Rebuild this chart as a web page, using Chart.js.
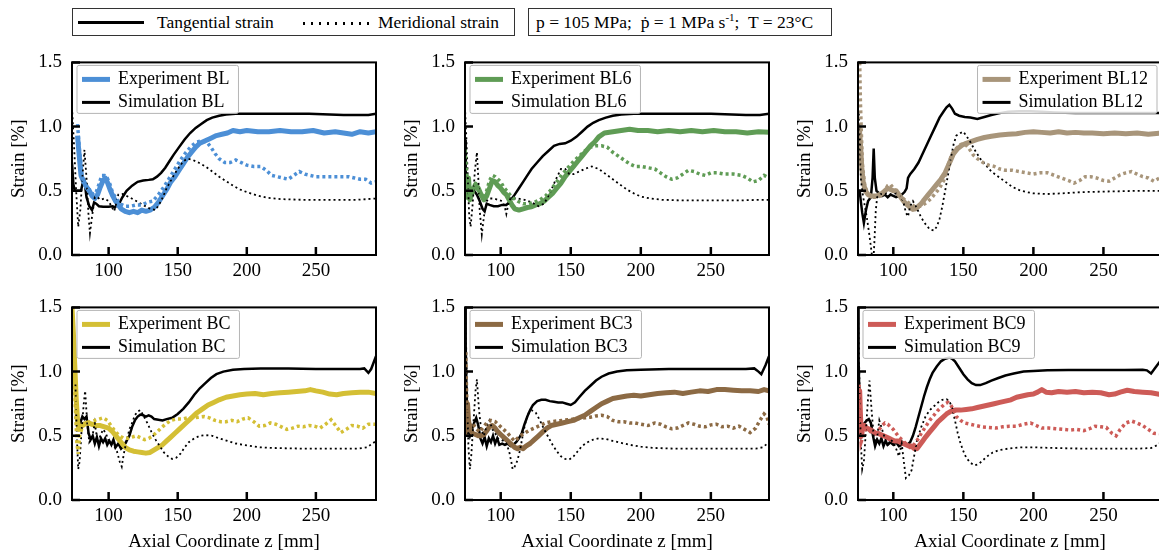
<!DOCTYPE html>
<html>
<head>
<meta charset="utf-8">
<script src="https://cdn.jsdelivr.net/npm/chart.js@4.4.1/dist/chart.umd.min.js"></script>
<style>
  html, body { margin: 0; padding: 0; width: 1159px; height: 553px; overflow: hidden; background: #fff; }
  body { position: relative; font-family: "Liberation Serif", "DejaVu Serif", serif; color: #000; }
  .panel { position: absolute; }
  .topbox { position: absolute; top: 8px; height: 28px; box-sizing: border-box; border: 1px solid #333; font-size: 17.5px; }
  .topbox span { position: absolute; top: 3px; white-space: nowrap; }
  .solid { position: absolute; top: 12px; height: 3px; background: #000; }
  .dots { position: absolute; top: 13px; height: 2.5px; background: repeating-linear-gradient(to right, #000 0 2.5px, transparent 2.5px 8px); }
  sup { font-size: 11px; vertical-align: 7px; line-height: 0; }
</style>
</head>
<body>

<div class="topbox" style="left:72px;width:443px;">
  <div class="solid" style="left:5px;width:66px;"></div>
  <span style="left:84px;">Tangential strain</span>
  <div class="dots" style="left:230px;width:70px;"></div>
  <span style="left:305px;">Meridional strain</span>
</div>
<div class="topbox" style="left:528px;width:304px;">
  <span style="left:7px;">p = 105 MPa;&nbsp; ṗ = 1 MPa s<sup>-1</sup>;&nbsp; T = 23°C</span>
</div>

<script>
// axis ticks
const xTicks = [100, 150, 200, 250];
const yTicks = [0, 0.5, 1.0, 1.5];
// x limits per column
const xMins = [73.5, 74.5, 74.8];
const xMaxs = [293.5, 291.5, 291.8];

// ---- BL ----
const expTanBL = [[77.5,0.93],[78.5,0.8],[80,0.62],[82,0.57],[84,0.53],[86,0.5],[88,0.46],[90,0.44],[92,0.47],[94,0.53],[96,0.58],[97.5,0.6],[99,0.57],[101,0.51],[103,0.46],[105,0.42],[107,0.39],[109,0.36],[112,0.34],[115,0.33],[118,0.34],[121,0.33],[124,0.35],[127,0.34],[130,0.35],[133,0.37],[136,0.41],[139,0.46],[142,0.51],[145,0.57],[148,0.61],[151,0.66],[154,0.71],[157,0.76],[160,0.8],[163,0.84],[166,0.87],[170,0.89],[174,0.91],[178,0.93],[182,0.94],[186,0.95],[190,0.97],[195,0.96],[200,0.97],[208,0.96],[216,0.96],[224,0.97],[232,0.96],[240,0.96],[248,0.97],[256,0.95],[264,0.96],[270,0.95],[276,0.94],[282,0.96],[288,0.95],[293.5,0.96]];
const expMerBL = [[77.5,1.02],[79,0.8],[81,0.6],[83,0.55],[85,0.52],[87,0.5],[89,0.47],[91,0.49],[93,0.55],[95,0.62],[97,0.62],[99,0.6],[101,0.55],[103,0.48],[105,0.45],[108,0.4],[112,0.38],[116,0.38],[120,0.39],[124,0.39],[128,0.41],[132,0.42],[136,0.47],[140,0.53],[144,0.6],[148,0.67],[152,0.74],[156,0.8],[160,0.85],[164,0.88],[168,0.89],[171,0.88],[174,0.84],[177,0.79],[180,0.75],[184,0.72],[188,0.72],[192,0.74],[196,0.72],[200,0.7],[205,0.69],[210,0.69],[214,0.66],[218,0.62],[222,0.61],[226,0.6],[230,0.59],[234,0.62],[238,0.65],[242,0.63],[246,0.62],[250,0.61],[256,0.61],[262,0.61],[268,0.61],[274,0.61],[278,0.6],[282,0.59],[286,0.59],[290,0.56],[293.5,0.57]];
const simTanBL = [[73.5,0.72],[74.5,0.55],[75.5,0.5],[78,0.5],[80,0.5],[81.5,0.57],[82.5,0.58],[84,0.45],[86,0.38],[88,0.35],[89.5,0.41],[91,0.4],[93,0.38],[96,0.375],[100,0.375],[103,0.38],[104.5,0.37],[106,0.39],[108,0.41],[110,0.45],[113,0.5],[117,0.54],[121,0.57],[125,0.58],[129,0.585],[132,0.59],[135,0.61],[138,0.64],[141,0.68],[144,0.73],[147,0.78],[151,0.84],[155,0.9],[159,0.95],[163,0.99],[167,1.02],[171,1.05],[175,1.07],[180,1.085],[185,1.095],[192,1.1],[200,1.1],[215,1.1],[230,1.1],[245,1.1],[260,1.095],[270,1.09],[280,1.09],[288,1.09],[293.5,1.1]];
const simMerBL = [[73.5,1.15],[75,0.85],[76.5,0.5],[78,0.22],[79.5,0.35],[81,0.6],[82.5,0.82],[84,0.6],[85.5,0.3],[86.5,0.17],[88,0.3],[90,0.45],[92,0.45],[94,0.43],[97,0.44],[100,0.42],[102,0.38],[104,0.34],[105.5,0.4],[107,0.47],[110,0.475],[115,0.45],[120,0.42],[125,0.39],[130,0.36],[134,0.35],[138,0.42],[142,0.52],[146,0.6],[150,0.67],[154,0.73],[157,0.75],[161,0.74],[165,0.72],[170,0.69],[175,0.65],[180,0.61],[185,0.575],[190,0.54],[195,0.51],[200,0.49],[207,0.465],[215,0.445],[225,0.435],[240,0.43],[260,0.43],[280,0.43],[293.5,0.44]];

// ---- BL6 ----
const expTanBL6 = [[75,0.52],[76,0.45],[77,0.6],[78,0.43],[80,0.5],[82,0.55],[84,0.52],[86,0.47],[88,0.43],[90,0.46],[92,0.52],[94,0.58],[96,0.57],[98,0.54],[100,0.52],[102,0.49],[104,0.47],[106,0.43],[108,0.39],[110,0.36],[113,0.35],[116,0.36],[119,0.37],[122,0.375],[125,0.39],[128,0.4],[131,0.42],[134,0.45],[137,0.48],[140,0.52],[143,0.56],[146,0.61],[149,0.65],[152,0.69],[155,0.73],[158,0.77],[161,0.81],[164,0.85],[167,0.88],[170,0.92],[174,0.95],[180,0.96],[186,0.97],[192,0.98],[198,0.97],[205,0.97],[212,0.96],[220,0.97],[228,0.96],[236,0.97],[244,0.96],[252,0.97],[260,0.96],[268,0.96],[276,0.95],[284,0.96],[291.5,0.955]];
const expMerBL6 = [[74.5,0.82],[76,0.6],[78,0.45],[80,0.52],[82,0.55],[84,0.5],[86,0.46],[88,0.45],[90,0.5],[92,0.58],[94,0.62],[96,0.61],[98,0.59],[100,0.57],[102,0.53],[105,0.49],[108,0.45],[112,0.42],[116,0.4],[120,0.4],[124,0.41],[128,0.43],[132,0.46],[136,0.51],[140,0.57],[144,0.63],[148,0.68],[152,0.73],[156,0.77],[160,0.81],[164,0.84],[168,0.85],[172,0.85],[176,0.84],[180,0.8],[184,0.77],[188,0.74],[192,0.71],[196,0.69],[200,0.69],[205,0.68],[210,0.67],[214,0.64],[218,0.61],[222,0.59],[226,0.6],[230,0.63],[234,0.66],[238,0.65],[242,0.63],[246,0.62],[250,0.64],[255,0.64],[260,0.63],[266,0.63],[272,0.62],[276,0.6],[280,0.57],[284,0.58],[288,0.62],[291.5,0.6]];
const simTanBL6 = [[74.5,0.9],[75,0.65],[75.5,0.52],[77,0.5],[79,0.52],[81,0.5],[83,0.47],[85,0.42],[87,0.36],[88.5,0.34],[90,0.4],[92,0.39],[95,0.38],[98,0.38],[101,0.39],[104,0.39],[106,0.41],[108,0.44],[110,0.47],[113,0.52],[116,0.57],[119,0.62],[122,0.67],[126,0.72],[130,0.77],[134,0.81],[138,0.85],[142,0.865],[146,0.87],[150,0.89],[154,0.92],[158,0.96],[162,1.0],[166,1.03],[170,1.05],[175,1.07],[180,1.085],[186,1.095],[195,1.1],[210,1.1],[230,1.1],[250,1.1],[265,1.095],[275,1.09],[285,1.09],[291.5,1.1]];
const simMerBL6 = [[74.5,1.15],[75.5,0.9],[76.5,0.6],[77.5,0.3],[78.5,0.22],[80,0.4],[81.5,0.65],[83,0.8],[84,0.6],[85,0.35],[86.5,0.16],[88,0.3],[90,0.42],[92,0.44],[95,0.44],[98,0.43],[101,0.42],[103,0.37],[104,0.32],[105.5,0.4],[107,0.44],[112,0.44],[117,0.43],[122,0.41],[127,0.38],[131,0.4],[135,0.48],[139,0.58],[143,0.67],[146,0.67],[149,0.63],[152,0.63],[156,0.65],[160,0.67],[165,0.69],[170,0.67],[175,0.63],[180,0.59],[185,0.55],[190,0.51],[195,0.48],[200,0.455],[207,0.44],[215,0.43],[230,0.425],[250,0.425],[270,0.425],[285,0.43],[291.5,0.43]];

// ---- BL12 ----
const expTanBL12 = [[75.5,1.0],[76,0.95],[76.8,0.82],[77.5,0.68],[78.5,0.57],[80,0.5],[82,0.47],[84,0.46],[86,0.46],[88,0.46],[90,0.47],[92,0.48],[94,0.5],[96,0.52],[98,0.51],[100,0.5],[102,0.5],[104,0.47],[106,0.44],[108,0.41],[110,0.39],[112,0.37],[114,0.355],[116,0.36],[118,0.38],[120,0.4],[122,0.43],[125,0.47],[128,0.51],[131,0.55],[134,0.59],[137,0.64],[139,0.69],[141,0.74],[143,0.79],[146,0.83],[149,0.855],[152,0.87],[156,0.885],[160,0.9],[165,0.915],[170,0.925],[176,0.935],[182,0.94],[188,0.945],[194,0.955],[200,0.96],[206,0.955],[212,0.95],[218,0.96],[224,0.95],[230,0.955],[236,0.95],[242,0.95],[250,0.945],[258,0.95],[266,0.945],[274,0.95],[282,0.94],[291.8,0.95]];
const expMerBL12 = [[76,1.5],[76.5,1.2],[77.2,0.95],[78,0.7],[79.5,0.55],[81,0.5],[83,0.47],[85,0.45],[88,0.45],[91,0.46],[94,0.5],[96,0.54],[98,0.55],[100,0.52],[103,0.48],[106,0.45],[109,0.42],[112,0.4],[115,0.38],[118,0.375],[121,0.39],[124,0.41],[127,0.44],[130,0.48],[133,0.52],[136,0.58],[138,0.66],[140,0.73],[142,0.79],[145,0.83],[148,0.86],[151,0.87],[154,0.83],[157,0.78],[160,0.75],[164,0.72],[168,0.7],[172,0.69],[176,0.67],[180,0.66],[185,0.66],[190,0.65],[195,0.64],[200,0.63],[205,0.64],[210,0.64],[215,0.62],[220,0.6],[225,0.58],[229,0.56],[233,0.58],[237,0.61],[241,0.61],[245,0.6],[250,0.58],[254,0.575],[258,0.6],[262,0.625],[266,0.64],[270,0.65],[274,0.63],[278,0.61],[282,0.6],[286,0.575],[291.8,0.61]];
const simTanBL12 = [[74.8,0.5],[76,0.5],[76.8,0.42],[77.8,0.33],[79,0.25],[80.5,0.35],[82,0.42],[84,0.45],[85.2,0.6],[86,0.83],[86.8,0.6],[88,0.5],[90,0.48],[92,0.46],[94,0.47],[96,0.45],[98,0.47],[100,0.46],[102,0.45],[104,0.46],[106,0.47],[108,0.49],[109.5,0.52],[110.5,0.6],[112,0.63],[115,0.67],[118,0.72],[121,0.79],[124,0.86],[127,0.93],[130,1.0],[133,1.07],[136,1.12],[138,1.15],[140,1.17],[142,1.14],[144,1.1],[147,1.085],[151,1.075],[155,1.07],[160,1.06],[165,1.075],[170,1.09],[176,1.105],[182,1.115],[190,1.12],[198,1.12],[206,1.115],[215,1.11],[230,1.105],[250,1.105],[270,1.105],[291.8,1.105]];
const simMerBL12 = [[74.8,1.1],[75.3,1.12],[76,0.95],[76.8,0.6],[77.8,0.5],[79,0.42],[81,0.3],[83,0.15],[84.5,0.02],[85.5,-0.1],[86.5,0.1],[87.5,0.35],[88.5,0.45],[90,0.47],[93,0.48],[96,0.48],[99,0.47],[102,0.48],[105,0.46],[107,0.42],[109,0.33],[110.5,0.3],[112,0.38],[114,0.42],[117,0.36],[120,0.29],[123,0.24],[126,0.2],[129,0.19],[131,0.22],[133,0.28],[135,0.38],[137,0.5],[139,0.62],[141,0.75],[143,0.86],[145,0.93],[148,0.95],[150,0.96],[152,0.93],[155,0.88],[158,0.82],[162,0.75],[166,0.7],[170,0.65],[175,0.61],[180,0.57],[185,0.53],[190,0.505],[195,0.49],[200,0.48],[210,0.475],[220,0.48],[235,0.49],[255,0.495],[275,0.5],[291.8,0.5]];

// ---- BC ----
const expTanBC = [[73.5,1.5],[74.5,1.3],[75.5,1.05],[76.5,0.8],[77.5,0.62],[78.5,0.55],[80,0.57],[82,0.59],[85,0.6],[88,0.59],[91,0.58],[94,0.58],[97,0.57],[100,0.56],[103,0.53],[106,0.49],[109,0.45],[112,0.41],[115,0.39],[118,0.38],[121,0.375],[124,0.37],[127,0.365],[130,0.37],[133,0.39],[136,0.41],[139,0.43],[142,0.46],[145,0.49],[148,0.52],[152,0.56],[156,0.6],[160,0.64],[164,0.68],[168,0.71],[172,0.74],[176,0.76],[180,0.78],[185,0.8],[190,0.81],[195,0.82],[200,0.825],[206,0.83],[212,0.82],[218,0.83],[224,0.835],[230,0.84],[236,0.845],[242,0.85],[246,0.86],[250,0.85],[255,0.84],[260,0.825],[265,0.82],[270,0.83],[276,0.835],[282,0.84],[288,0.84],[293.5,0.83]];
const expMerBC = [[74,1.4],[75,1.0],[76,0.7],[77,0.45],[78,0.36],[79,0.5],[81,0.57],[84,0.6],[87,0.61],[90,0.62],[93,0.63],[96,0.64],[99,0.62],[102,0.575],[105,0.53],[108,0.5],[111,0.48],[114,0.48],[117,0.49],[120,0.5],[123,0.485],[126,0.47],[129,0.48],[132,0.5],[135,0.53],[138,0.56],[141,0.59],[145,0.62],[149,0.63],[153,0.63],[157,0.64],[161,0.64],[165,0.645],[169,0.65],[173,0.64],[177,0.62],[181,0.61],[185,0.61],[189,0.62],[193,0.61],[197,0.63],[201,0.64],[205,0.61],[209,0.575],[213,0.58],[217,0.6],[221,0.59],[225,0.57],[229,0.55],[233,0.56],[237,0.575],[241,0.57],[245,0.58],[249,0.575],[253,0.56],[257,0.59],[261,0.625],[265,0.57],[268,0.525],[272,0.55],[276,0.58],[280,0.575],[284,0.56],[288,0.59],[293.5,0.59]];
const simTanBC = [[77,0.6],[78,0.58],[79.5,0.6],[81,0.65],[82.5,0.63],[84,0.65],[85.5,0.52],[87,0.47],[88.5,0.5],[90,0.44],[91.5,0.49],[93,0.42],[94.5,0.48],[96,0.45],[97.5,0.48],[99,0.43],[100.5,0.46],[102,0.43],[103.5,0.47],[105,0.41],[107,0.44],[109,0.4],[111,0.42],[113,0.46],[115,0.5],[117,0.57],[119,0.62],[121,0.65],[123,0.665],[125,0.66],[127,0.65],[129,0.66],[131,0.65],[133,0.63],[136,0.625],[139,0.62],[142,0.63],[146,0.64],[150,0.67],[154,0.71],[158,0.76],[162,0.82],[166,0.87],[170,0.91],[174,0.95],[178,0.98],[183,1.0],[190,1.015],[198,1.02],[210,1.025],[230,1.025],[250,1.02],[270,1.02],[282,1.02],[285,1.025],[288,0.99],[290,1.02],[293.5,1.12]];
const simMerBC = [[76,0.9],[77,0.5],[78,0.24],[79,0.3],[80.5,0.55],[82,0.75],[83,0.85],[84.5,0.6],[86,0.45],[88,0.48],[90,0.6],[92,0.45],[94,0.5],[96,0.55],[98,0.52],[100,0.46],[102,0.44],[104,0.42],[106,0.38],[108,0.3],[109.5,0.26],[111,0.36],[113,0.46],[115,0.55],[117,0.6],[119,0.66],[121,0.69],[123,0.7],[125,0.66],[128,0.6],[131,0.53],[134,0.47],[137,0.42],[140,0.37],[143,0.34],[146,0.32],[149,0.33],[152,0.36],[155,0.41],[158,0.45],[162,0.48],[166,0.5],[170,0.505],[175,0.5],[180,0.48],[186,0.46],[192,0.44],[200,0.425],[210,0.41],[220,0.405],[240,0.4],[260,0.4],[280,0.4],[287,0.41],[293.5,0.46]];

// ---- BC3 ----
const expTanBC3 = [[75,0.5],[75.6,0.6],[76.3,0.75],[77,0.62],[78,0.55],[80,0.52],[82,0.51],[84,0.5],[86,0.5],[88,0.51],[90,0.54],[92,0.57],[94,0.58],[96,0.56],[98,0.53],[100,0.51],[102,0.49],[104,0.47],[106,0.45],[108,0.43],[110,0.41],[112,0.4],[114,0.41],[116,0.4],[118,0.42],[121,0.44],[124,0.47],[127,0.5],[130,0.53],[133,0.56],[136,0.58],[140,0.59],[144,0.6],[148,0.61],[152,0.62],[156,0.64],[160,0.66],[164,0.69],[168,0.72],[172,0.75],[176,0.77],[180,0.79],[185,0.8],[190,0.81],[195,0.815],[200,0.81],[206,0.82],[212,0.83],[218,0.835],[224,0.84],[230,0.83],[236,0.84],[242,0.85],[248,0.845],[254,0.86],[260,0.86],[266,0.855],[272,0.85],[278,0.85],[284,0.845],[288,0.86],[291.5,0.85]];
const expMerBC3 = [[75,1.15],[75.6,0.85],[76.3,0.62],[77.5,0.56],[79,0.6],[81,0.58],[83,0.55],[85,0.53],[87,0.56],[90,0.6],[93,0.62],[96,0.61],[99,0.58],[102,0.55],[105,0.52],[108,0.48],[110,0.46],[112,0.48],[114,0.5],[117,0.52],[120,0.54],[124,0.56],[128,0.58],[132,0.6],[136,0.61],[140,0.615],[144,0.62],[148,0.625],[152,0.63],[156,0.635],[160,0.64],[164,0.645],[168,0.655],[172,0.66],[176,0.65],[180,0.62],[184,0.61],[188,0.61],[192,0.6],[196,0.6],[200,0.59],[205,0.58],[210,0.6],[214,0.59],[218,0.57],[222,0.555],[226,0.56],[230,0.58],[234,0.6],[238,0.59],[242,0.575],[246,0.57],[250,0.585],[254,0.59],[258,0.57],[262,0.575],[266,0.56],[270,0.575],[274,0.55],[278,0.525],[282,0.56],[285,0.62],[288,0.67],[290,0.65],[291.5,0.59]];
const simTanBC3 = [[74.6,1.5],[75,1.2],[75.5,0.9],[76,0.65],[76.8,0.55],[78,0.5],[79.5,0.55],[81,0.6],[82.5,0.64],[84,0.58],[85.5,0.48],[87,0.44],[88.5,0.49],[90,0.42],[91.5,0.48],[93,0.45],[94.5,0.5],[96,0.44],[97.5,0.48],[99,0.43],[101,0.44],[103,0.43],[105,0.44],[107,0.42],[109,0.43],[111,0.45],[113,0.48],[115,0.52],[117,0.59],[119,0.65],[121,0.7],[123,0.74],[126,0.77],[129,0.78],[132,0.78],[135,0.77],[138,0.765],[141,0.76],[144,0.76],[147,0.75],[150,0.74],[153,0.76],[156,0.8],[160,0.85],[164,0.89],[168,0.93],[172,0.96],[177,0.985],[183,1.0],[190,1.01],[200,1.015],[220,1.02],[240,1.02],[260,1.02],[275,1.02],[281,1.025],[284,1.0],[286,0.98],[289,1.05],[291.5,1.12]];
const simMerBC3 = [[74.8,1.5],[75.5,1.1],[76.2,0.7],[77,0.4],[78,0.24],[79,0.35],[80.5,0.6],[82,0.85],[83,0.94],[84.5,0.7],[86,0.55],[88,0.5],[90,0.58],[92,0.62],[94,0.55],[96,0.52],[98,0.48],[100,0.47],[102,0.46],[104,0.44],[106,0.38],[107.5,0.3],[108.5,0.24],[110,0.26],[112,0.31],[114,0.4],[116,0.52],[118,0.62],[120,0.68],[122,0.7],[125,0.68],[128,0.62],[131,0.55],[134,0.49],[137,0.43],[140,0.38],[143,0.34],[146,0.32],[149,0.315],[152,0.34],[155,0.38],[158,0.42],[162,0.45],[166,0.47],[170,0.48],[175,0.475],[180,0.46],[186,0.445],[192,0.43],[200,0.415],[210,0.405],[225,0.4],[245,0.4],[265,0.4],[282,0.4],[287,0.41],[291.5,0.45]];

// ---- BC9 ----
const expTanBC9 = [[75,0.55],[75.5,0.7],[76,0.85],[76.6,0.65],[77.3,0.5],[78,0.55],[79.5,0.58],[81,0.56],[83,0.55],[85,0.54],[87,0.52],[89,0.52],[91,0.51],[93,0.5],[95,0.49],[97,0.48],[99,0.47],[101,0.46],[103,0.46],[105,0.45],[107,0.44],[109,0.43],[111,0.42],[113,0.42],[115,0.4],[117,0.4],[119,0.43],[121,0.46],[123,0.49],[126,0.53],[129,0.57],[132,0.61],[135,0.64],[138,0.67],[141,0.69],[144,0.7],[148,0.7],[152,0.705],[156,0.71],[160,0.72],[164,0.73],[168,0.74],[172,0.75],[176,0.76],[180,0.77],[184,0.78],[188,0.8],[192,0.81],[196,0.82],[200,0.825],[203,0.84],[206,0.86],[209,0.84],[213,0.835],[218,0.845],[224,0.84],[230,0.845],[236,0.835],[242,0.84],[248,0.835],[254,0.82],[258,0.825],[262,0.84],[267,0.855],[272,0.845],[278,0.84],[284,0.835],[291.8,0.82]];
const expMerBC9 = [[75,0.6],[75.6,0.9],[76.3,0.6],[77,0.45],[78.5,0.5],[80,0.55],[82,0.55],[84,0.53],[86,0.52],[88,0.53],[90,0.55],[92,0.58],[94,0.6],[96,0.59],[98,0.57],[100,0.55],[102,0.52],[104,0.49],[106,0.47],[108,0.45],[110,0.43],[112,0.41],[114,0.42],[116,0.45],[118,0.48],[120,0.52],[123,0.57],[126,0.62],[129,0.66],[132,0.7],[135,0.73],[137,0.75],[139,0.76],[141,0.74],[143,0.7],[145,0.65],[148,0.62],[151,0.6],[155,0.59],[159,0.58],[163,0.57],[168,0.565],[173,0.56],[178,0.57],[183,0.575],[188,0.575],[193,0.59],[198,0.6],[202,0.58],[206,0.56],[211,0.56],[216,0.555],[221,0.55],[226,0.545],[231,0.55],[236,0.54],[240,0.555],[244,0.575],[248,0.57],[252,0.565],[256,0.52],[259,0.5],[262,0.55],[266,0.6],[270,0.615],[274,0.6],[278,0.58],[282,0.55],[286,0.52],[291.8,0.515]];
const simTanBC9 = [[74.8,1.5],[75.2,1.1],[75.8,0.8],[76.4,0.65],[77.2,0.58],[78,0.58],[79.5,0.6],[81,0.62],[82.5,0.63],[84,0.6],[85.5,0.5],[87,0.42],[88.5,0.47],[90,0.44],[91.5,0.48],[93,0.42],[94.5,0.46],[96,0.43],[98,0.45],[100,0.43],[102,0.45],[104,0.42],[106,0.43],[108,0.44],[110,0.43],[112,0.45],[114,0.5],[116,0.57],[118,0.65],[120,0.73],[122,0.81],[124,0.88],[126,0.94],[128,0.99],[131,1.04],[134,1.08],[137,1.1],[140,1.11],[142,1.1],[144,1.08],[147,1.03],[150,0.98],[153,0.94],[156,0.91],[159,0.895],[162,0.895],[166,0.91],[170,0.93],[175,0.95],[180,0.97],[186,0.985],[193,1.0],[200,1.005],[210,1.01],[225,1.012],[245,1.012],[265,1.012],[278,1.015],[281,1.01],[284,0.985],[287,1.03],[291.8,1.1]];
const simMerBC9 = [[74.8,1.5],[75.4,1.2],[76,0.8],[76.8,0.45],[77.8,0.24],[79,0.3],[80.5,0.55],[82,0.8],[83,0.93],[84.5,0.7],[86,0.5],[88,0.45],[90,0.62],[92,0.55],[94,0.48],[96,0.42],[98,0.47],[100,0.45],[102,0.4],[104,0.34],[106,0.44],[107.5,0.3],[109,0.17],[111,0.19],[113,0.23],[115,0.35],[117,0.47],[120,0.57],[123,0.65],[126,0.7],[129,0.73],[132,0.76],[135,0.78],[138,0.785],[140,0.77],[142,0.72],[144,0.62],[146,0.52],[148,0.44],[150,0.38],[152,0.33],[155,0.29],[158,0.27],[161,0.28],[164,0.31],[167,0.34],[171,0.37],[176,0.39],[182,0.4],[190,0.41],[200,0.41],[215,0.405],[235,0.4],[255,0.4],[275,0.4],[284,0.405],[289,0.43],[291.8,0.46]];

const panels = [
  { name: 'BL',   col: 0, row: 0, color: '#4c8fd6', expTan: expTanBL,   expMer: expMerBL,   simTan: simTanBL,   simMer: simMerBL },
  { name: 'BL6',  col: 1, row: 0, color: '#5f9c55', expTan: expTanBL6,  expMer: expMerBL6,  simTan: simTanBL6,  simMer: simMerBL6 },
  { name: 'BL12', col: 2, row: 0, color: '#a8957a', expTan: expTanBL12, expMer: expMerBL12, simTan: simTanBL12, simMer: simMerBL12, right: true },
  { name: 'BC',   col: 0, row: 1, color: '#d4bf35', expTan: expTanBC,   expMer: expMerBC,   simTan: simTanBC,   simMer: simMerBC },
  { name: 'BC3',  col: 1, row: 1, color: '#8c6a44', expTan: expTanBC3,  expMer: expMerBC3,  simTan: simTanBC3,  simMer: simMerBC3 },
  { name: 'BC9',  col: 2, row: 1, color: '#cd5b57', expTan: expTanBC9,  expMer: expMerBC9,  simTan: simTanBC9,  simMer: simMerBC9 }
];

const serif = '"Liberation Serif", "DejaVu Serif", serif';
const colLeft = [72, 465, 858];
const rowTop = [55, 300];
const areaW = 304, areaH = 200, yAxisW = 72, padTop = 14;

function pts(arr) {
  return arr.map(p => ({ x: p[0], y: p[1] }));
}

// frame, inward ticks and the small legend of each panel
const panelFrame = {
  id: 'panelFrame',
  afterDraw(chart, args, opts) {
    const { ctx, chartArea: a, scales } = chart;
    ctx.save();
    ctx.strokeStyle = '#000';
    ctx.lineWidth = 2.5;
    ctx.beginPath();
    xTicks.forEach(v => {
      const px = scales.x.getPixelForValue(v);
      ctx.moveTo(px, a.bottom);
      ctx.lineTo(px, a.bottom - 8);
    });
    yTicks.forEach(v => {
      const py = scales.y.getPixelForValue(v);
      ctx.moveTo(a.left, py);
      ctx.lineTo(a.left + 8, py);
    });
    ctx.stroke();
    ctx.lineWidth = 2;
    ctx.strokeRect(a.left, a.top, a.right - a.left, a.bottom - a.top);

    ctx.font = '18px ' + serif;
    const labels = ['Experiment ' + opts.name, 'Simulation ' + opts.name];
    const tw = Math.max(...labels.map(t => ctx.measureText(t).width));
    const w = 41 + tw + 9, h = 48;
    const x0 = opts.right ? a.right - 5 - w : a.left + 5;
    const y0 = a.top + 3;
    ctx.beginPath();
    ctx.roundRect(x0, y0, w, h, 2);
    ctx.fillStyle = 'rgba(255,255,255,0.85)';
    ctx.fill();
    ctx.lineWidth = 1;
    ctx.strokeStyle = '#b5b5b5';
    ctx.stroke();

    const rows = [y0 + 14, y0 + 37];
    ctx.lineCap = 'butt';
    ctx.beginPath();
    ctx.strokeStyle = opts.color;
    ctx.lineWidth = 5;
    ctx.moveTo(x0 + 5, rows[0]);
    ctx.lineTo(x0 + 33, rows[0]);
    ctx.stroke();
    ctx.beginPath();
    ctx.strokeStyle = '#000';
    ctx.lineWidth = 3;
    ctx.moveTo(x0 + 5, rows[1]);
    ctx.lineTo(x0 + 33, rows[1]);
    ctx.stroke();

    ctx.fillStyle = '#000';
    ctx.textAlign = 'left';
    ctx.textBaseline = 'middle';
    ctx.fillText(labels[0], x0 + 41, rows[0]);
    ctx.fillText(labels[1], x0 + 41, rows[1]);
    ctx.restore();
  }
};

panels.forEach(p => {
  const bottomRow = p.row === 1;
  const xAxisH = bottomRow ? 53 : 32;
  const cw = yAxisW + areaW + 4;
  const ch = padTop + areaH + xAxisH;

  const wrap = document.createElement('div');
  wrap.className = 'panel';
  wrap.style.left = (colLeft[p.col] - yAxisW) + 'px';
  wrap.style.top = (rowTop[p.row] - padTop) + 'px';
  const canvas = document.createElement('canvas');
  canvas.width = cw;
  canvas.height = ch;
  canvas.style.width = cw + 'px';
  canvas.style.height = ch + 'px';
  wrap.appendChild(canvas);
  document.body.appendChild(wrap);

  new Chart(canvas.getContext('2d'), {
    type: 'line',
    data: {
      datasets: [
        { label: 'Experiment meridional', data: pts(p.expMer), borderColor: p.color, borderWidth: 3.5, borderDash: [3, 3] },
        { label: 'Simulation meridional', data: pts(p.simMer), borderColor: '#000', borderWidth: 1.8, borderDash: [2, 3] },
        { label: 'Experiment tangential', data: pts(p.expTan), borderColor: p.color, borderWidth: 5, borderJoinStyle: 'round' },
        { label: 'Simulation tangential', data: pts(p.simTan), borderColor: '#000', borderWidth: 2.5 }
      ]
    },
    options: {
      responsive: false,
      animation: false,
      devicePixelRatio: 1,
      layout: { padding: { top: padTop, right: 4, left: 0, bottom: 0 } },
      elements: { point: { radius: 0 }, line: { tension: 0, fill: false } },
      plugins: {
        legend: { display: false },
        tooltip: { enabled: false },
        panelFrame: { name: p.name, color: p.color, right: !!p.right }
      },
      scales: {
        x: {
          type: 'linear',
          min: xMins[p.col],
          max: xMaxs[p.col],
          grid: { display: false, drawTicks: false },
          border: { display: false },
          afterBuildTicks: s => { s.ticks = xTicks.map(v => ({ value: v })); },
          afterFit: s => { s.height = xAxisH; },
          ticks: { padding: 5, color: '#000', maxRotation: 0, font: { family: serif, size: 19 } },
          title: {
            display: bottomRow,
            text: 'Axial Coordinate z [mm]',
            color: '#000',
            padding: 0,
            font: { family: serif, size: 19 }
          }
        },
        y: {
          min: 0,
          max: 1.5,
          grid: { display: false, drawTicks: false },
          border: { display: false },
          afterBuildTicks: s => { s.ticks = yTicks.map(v => ({ value: v })); },
          afterFit: s => { s.width = yAxisW; },
          ticks: { padding: 10, color: '#000', font: { family: serif, size: 19 }, callback: v => v.toFixed(1) },
          title: {
            display: true,
            text: 'Strain [%]',
            color: '#000',
            padding: 8,
            font: { family: serif, size: 19 }
          }
        }
      }
    },
    plugins: [panelFrame]
  });
});
</script>
</body>
</html>
